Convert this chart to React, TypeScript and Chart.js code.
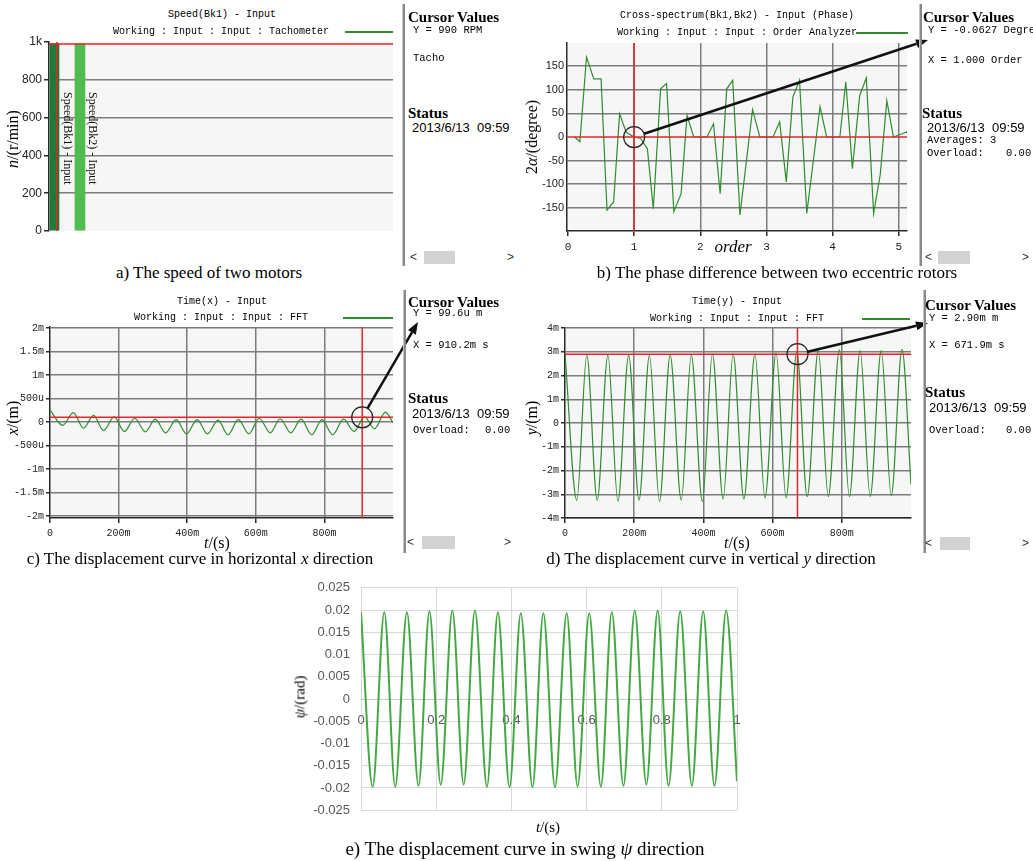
import React, { useEffect, useRef } from 'react';
import { Chart, registerables } from 'chart.js';
Chart.register(...registerables);

const MONO = '"Liberation Mono", "DejaVu Sans Mono", monospace';
const SERIF = '"Liberation Serif", "Times New Roman", serif';
const SANS = '"Liberation Sans", Arial, sans-serif';

// ---------- a) speed of two motors ----------
const speedChannels = ['Speed(Bk1) - Input', 'Speed(Bk2) - Input'];
const speedChannelX = [1.6, 9.0];
const speedRPM = [990, 990];
const speedTickValues = [0, 200, 400, 600, 800, 1000];
const speedTickLabels = ['0', '200', '400', '600', '800', '1k'];
const speedCursorX = 2.3;
const speedCursorY = 990;

// ---------- b) phase difference ----------
const phaseOrder = [0.1, 0.18, 0.28, 0.39, 0.5, 0.59, 0.69, 0.78, 0.88, 1.0, 1.1, 1.2, 1.29, 1.4, 1.49, 1.6, 1.71, 1.8, 1.9, 2.1, 2.2, 2.3, 2.4, 2.49, 2.6, 2.79, 2.9, 3.1, 3.2, 3.3, 3.4, 3.5, 3.61, 3.81, 3.91, 4.11, 4.2, 4.3, 4.41, 4.51, 4.62, 4.72, 4.82, 4.92, 5.11, 5.12];
const phaseDeg = [0, -10, 169, 123, 123, -155, -137, 49, 10, 0, -3, -25, -152, 102, 113, -158, -120, 46, 0, 0, 28, -120, 102, 120, -165, 58, 0, 0, 32, -95, 85, 120, -162, 64, 0, 0, 117, -67, 88, 125, -162, -80, 77, 0, 10, 12];
const phaseTickValues = [-150, -100, -50, 0, 50, 100, 150];
const orderTickValues = [0, 1, 2, 3, 4, 5];
const phaseCursorX = 1.0;
const phaseCursorY = -0.0627;

// ---------- c) horizontal x displacement (m-units as shown on axis) ----------
const xTime = [0, 0.037, 0.068, 0.098, 0.127, 0.156, 0.187, 0.217, 0.247, 0.278, 0.307, 0.337, 0.368, 0.398, 0.429, 0.459, 0.49, 0.519, 0.549, 0.58, 0.61, 0.642, 0.671, 0.702, 0.732, 0.763, 0.793, 0.824, 0.856, 0.886, 0.917, 0.946, 0.978, 1.0];
const xDisp = [0.26, -0.07, 0.2, -0.13, 0.14, -0.18, 0.11, -0.2, 0.08, -0.21, 0.06, -0.23, 0.05, -0.25, 0.05, -0.25, 0.04, -0.27, 0.05, -0.25, 0.08, -0.23, 0.07, -0.23, 0.06, -0.27, 0.05, -0.27, 0.06, -0.2, 0.11, -0.14, 0.21, -0.02];
const xTickValues = [-2, -1.5, -1, -0.5, 0, 0.5, 1, 1.5, 2];
const xTickLabels = ['-2m', '-1.5m', '-1m', '-500u', '0', '500u', '1m', '1.5m', '2m'];
const xCursorX = 0.9102;
const xCursorY = 0.0996;

// ---------- d) vertical y displacement ----------
const yTime = [0, 0.034, 0.063, 0.093, 0.124, 0.153, 0.184, 0.214, 0.244, 0.273, 0.304, 0.336, 0.365, 0.397, 0.426, 0.457, 0.486, 0.517, 0.549, 0.578, 0.61, 0.639, 0.67, 0.7, 0.732, 0.761, 0.793, 0.822, 0.853, 0.882, 0.914, 0.943, 0.974, 1.0];
const yDisp = [2.9, -3.25, 2.85, -3.25, 2.85, -3.3, 2.85, -3.25, 2.85, -3.3, 2.85, -3.25, 2.85, -3.3, 2.9, -3.2, 2.9, -3.2, 2.9, -3.15, 2.95, -3.15, 3.0, -3.1, 3.05, -3.1, 3.08, -3.1, 3.05, -3.1, 3.05, -3.05, 3.1, -2.6];
const yTickValues = [-4, -3, -2, -1, 0, 1, 2, 3, 4];
const yTickLabels = ['-4m', '-3m', '-2m', '-1m', '0', '1m', '2m', '3m', '4m'];
const yCursorX = 0.6719;
const yCursorY = 2.9;

// shared time axis ticks for c and d
const timeTickValues = [0, 0.2, 0.4, 0.6, 0.8];
const timeTickLabels = ['0', '200m', '400m', '600m', '800m'];

// ---------- e) swing psi ----------
const swingTime = [0, 0.031, 0.062, 0.091, 0.122, 0.153, 0.182, 0.212, 0.243, 0.273, 0.303, 0.335, 0.364, 0.395, 0.425, 0.456, 0.485, 0.516, 0.547, 0.576, 0.607, 0.638, 0.667, 0.698, 0.728, 0.759, 0.789, 0.818, 0.849, 0.88, 0.91, 0.94, 0.971, 1.0];
const swingRad = [0.0195, -0.0197, 0.0195, -0.0197, 0.0195, -0.0195, 0.0197, -0.0193, 0.0199, -0.0192, 0.0199, -0.0197, 0.0195, -0.0198, 0.0193, -0.0198, 0.0193, -0.0198, 0.0193, -0.0197, 0.0193, -0.0197, 0.0195, -0.0195, 0.0199, -0.0192, 0.0199, -0.0195, 0.0197, -0.0195, 0.0197, -0.0195, 0.0199, -0.0185];
const swingTickValues = [-0.025, -0.02, -0.015, -0.01, -0.005, 0, 0.005, 0.01, 0.015, 0.02, 0.025];
const swingTimeTicks = [0, 0.2, 0.4, 0.6, 0.8, 1];

// ---------- styling ----------
const GREEN = '#2f8c2f';
const GRID = '#7c7c7c';
const AXIS = '#2a2a2a';
const RED = '#e3262b';
const PLOT_BG = '#f6f6f6';

const zip = (xs: number[], ys: number[]) => xs.map((x, i) => ({ x, y: ys[i] }));
const setTicks = (vals: number[]) => (s: any) => {
  s.ticks = vals.map((v) => ({ value: v }));
};
const labelFrom = (vals: number[], labels: string[]) => (v: any) => {
  const i = vals.findIndex((t) => Math.abs(t - v) < 1e-9);
  return i >= 0 ? labels[i] : '';
};

const bgPlugin = (color: string) => ({
  id: 'plotbg',
  beforeDraw(chart: any) {
    const { ctx, chartArea: a } = chart;
    ctx.save();
    ctx.fillStyle = color;
    ctx.fillRect(a.left, a.top, a.right - a.left, a.bottom - a.top);
    ctx.restore();
  },
});

const cursorPlugin = (o: { x: number; y: number; circle?: boolean; arrowTo?: [number, number] }) => ({
  id: 'cursor',
  afterDatasetsDraw(chart: any) {
    const { ctx, chartArea: a, scales } = chart;
    const px = scales.x.getPixelForValue(o.x);
    const py = scales.y.getPixelForValue(o.y);
    ctx.save();
    ctx.strokeStyle = RED;
    ctx.lineWidth = 1.5;
    ctx.beginPath();
    ctx.moveTo(a.left, py);
    ctx.lineTo(a.right, py);
    ctx.stroke();
    ctx.beginPath();
    ctx.moveTo(px, a.top);
    ctx.lineTo(px, a.bottom);
    ctx.stroke();
    if (o.circle) {
      const r = 10.5;
      ctx.strokeStyle = '#222';
      ctx.lineWidth = 1.2;
      ctx.beginPath();
      ctx.arc(px, py, r, 0, Math.PI * 2);
      ctx.stroke();
      if (o.arrowTo) {
        const [tx, ty] = o.arrowTo;
        const dx = tx - px, dy = ty - py;
        const L = Math.hypot(dx, dy);
        const ux = dx / L, uy = dy / L;
        const sx = px + ux * r, sy = py + uy * r;
        const hl = 12, hw = 4.5;
        const bx = tx - ux * hl, by = ty - uy * hl;
        ctx.strokeStyle = '#111';
        ctx.lineWidth = 2.5;
        ctx.beginPath();
        ctx.moveTo(sx, sy);
        ctx.lineTo(bx, by);
        ctx.stroke();
        ctx.fillStyle = '#111';
        ctx.beginPath();
        ctx.moveTo(tx, ty);
        ctx.lineTo(bx - uy * hw, by + ux * hw);
        ctx.lineTo(bx + uy * hw, by - ux * hw);
        ctx.closePath();
        ctx.fill();
      }
    }
    ctx.restore();
  },
});

const speedLabelPlugin = {
  id: 'speedLabels',
  afterDatasetsDraw(chart: any) {
    const { ctx, chartArea: a, scales } = chart;
    ctx.save();
    ctx.fillStyle = '#111';
    ctx.font = `12px ${SERIF}`;
    ctx.textBaseline = 'middle';
    ctx.textAlign = 'left';
    speedChannels.forEach((label, i) => {
      const px = scales.x.getPixelForValue(speedChannelX[i]) + 12.5;
      ctx.save();
      ctx.translate(px, a.top + 50);
      ctx.rotate(Math.PI / 2);
      ctx.fillText(label, 0, 0);
      ctx.restore();
    });
    ctx.restore();
  },
};

const baseOpts = (padding: any) => ({
  animation: false,
  responsive: false,
  events: [],
  layout: { padding },
  plugins: { legend: { display: false }, tooltip: { enabled: false }, title: { display: false } },
});

const instrGrid = (hideZero: boolean, tickLength: number, drawTicks = true) => ({
  color: (c: any) => (hideZero && c.tick && Math.abs(c.tick.value) < 1e-9 ? 'rgba(0,0,0,0)' : GRID),
  lineWidth: 1.5,
  tickColor: AXIS,
  tickLength,
  drawTicks,
});

// ---------- chart configs ----------
const makeSpeed = () => ({
  type: 'bar',
  data: {
    datasets: speedChannels.map((label, i) => ({
      label,
      data: [{ x: speedChannelX[i], y: speedRPM[i] }],
      backgroundColor: i === 0 ? '#1d7a37' : '#4fbc4f',
      barThickness: i === 0 ? 9 : 10,
      grouped: false,
    })),
  },
  options: {
    ...baseOpts({ top: 22, right: 7, bottom: 29, left: 0 }),
    scales: {
      x: { type: 'linear', min: 0, max: 100, offset: false, display: false },
      y: {
        type: 'linear', min: 0, max: 1000,
        afterBuildTicks: setTicks(speedTickValues),
        afterFit: (s: any) => { s.width = 49; },
        ticks: { callback: labelFrom(speedTickValues, speedTickLabels), font: { family: SANS, size: 12 }, color: '#222', padding: 2 },
        grid: { color: (c: any) => (c.tick && (c.tick.value === 0 || c.tick.value === 1000) ? 'rgba(0,0,0,0)' : GRID), lineWidth: 1.5, tickColor: AXIS, tickLength: 5 },
        border: { color: AXIS, width: 1.5 },
      },
    },
  },
  plugins: [bgPlugin(PLOT_BG), speedLabelPlugin, cursorPlugin({ x: speedCursorX, y: speedCursorY })],
});

const makePhase = () => ({
  type: 'line',
  data: { datasets: [{ data: zip(phaseOrder, phaseDeg), borderColor: GREEN, borderWidth: 1.2, pointRadius: 0, tension: 0 }] },
  options: {
    ...baseOpts({ top: 23, right: 33, bottom: 4, left: 0 }),
    scales: {
      x: {
        type: 'linear', min: -0.015, max: 5.125,
        afterBuildTicks: setTicks(orderTickValues),
        afterFit: (s: any) => { s.height = 25; },
        ticks: { callback: (v: any) => String(v), font: { family: MONO, size: 11 }, color: '#222', padding: 4, maxRotation: 0 },
        grid: instrGrid(true, 5),
        border: { color: AXIS, width: 1.5 },
      },
      y: {
        type: 'linear', min: -199, max: 199,
        afterBuildTicks: setTicks(phaseTickValues),
        afterFit: (s: any) => { s.width = 47; },
        ticks: { callback: (v: any) => String(v), font: { family: SANS, size: 11 }, color: '#222', padding: 3 },
        grid: instrGrid(true, 0, false),
        border: { color: AXIS, width: 1.5 },
      },
    },
  },
  plugins: [bgPlugin(PLOT_BG), cursorPlugin({ x: phaseCursorX, y: phaseCursorY, circle: true, arrowTo: [928 - 520, 40 - 20] })],
});

const makeTime = (t: number[], v: number[], yMin: number, yMax: number, yVals: number[], yLabels: string[], yWidth: number, padRight: number, cx: number, cy: number, arrowTo: [number, number]) => ({
  type: 'line',
  data: { datasets: [{ data: zip(t, v), borderColor: GREEN, borderWidth: 1.2, pointRadius: 0, cubicInterpolationMode: 'monotone' }] },
  options: {
    ...baseOpts({ top: yWidth === 50 ? 22 : 23, right: padRight, bottom: 12, left: 0 }),
    scales: {
      x: {
        type: 'linear', min: 0, max: 1.0,
        afterBuildTicks: setTicks(timeTickValues),
        afterFit: (s: any) => { s.height = 25; },
        ticks: { callback: labelFrom(timeTickValues, timeTickLabels), font: { family: MONO, size: 10 }, color: '#222', padding: 4, maxRotation: 0 },
        grid: instrGrid(true, 5),
        border: { color: AXIS, width: 1.5 },
      },
      y: {
        type: 'linear', min: yMin, max: yMax,
        afterBuildTicks: setTicks(yVals),
        afterFit: (s: any) => { s.width = yWidth; },
        ticks: { callback: labelFrom(yVals, yLabels), font: { family: MONO, size: 10 }, color: '#222', padding: 2 },
        grid: instrGrid(false, 4),
        border: { color: AXIS, width: 1.5 },
      },
    },
  },
  plugins: [bgPlugin(PLOT_BG), cursorPlugin({ x: cx, y: cy, circle: true, arrowTo })],
});

const makeSwing = () => ({
  type: 'line',
  data: { datasets: [{ data: zip(swingTime, swingRad), borderColor: '#43a843', borderWidth: 2, pointRadius: 0, cubicInterpolationMode: 'monotone' }] },
  options: {
    ...baseOpts({ top: 0, right: 23, bottom: 0, left: 0 }),
    scales: {
      x: {
        type: 'linear', min: 0, max: 1, position: { y: 0 },
        afterBuildTicks: setTicks(swingTimeTicks),
        ticks: { callback: (v: any) => String(v), font: { family: SANS, size: 13 }, color: '#595959', padding: 14, maxRotation: 0 },
        grid: { color: '#d9d9d9', lineWidth: 1, drawTicks: false },
        border: { color: '#c8c8c8', width: 1 },
      },
      y: {
        type: 'linear', min: -0.025, max: 0.025,
        afterBuildTicks: setTicks(swingTickValues),
        afterFit: (s: any) => { s.width = 81; },
        ticks: { callback: (v: any) => String(+Number(v).toFixed(3)), font: { family: SANS, size: 13 }, color: '#595959', padding: 11 },
        grid: { color: '#d9d9d9', lineWidth: 1, drawTicks: false },
        border: { display: false },
      },
    },
  },
  plugins: [],
});

// ---------- components ----------
function ChartBox({ left, top, width, height, make }: { left: number; top: number; width: number; height: number; make: () => any }) {
  const ref = useRef<HTMLCanvasElement>(null);
  useEffect(() => {
    const chart = new Chart(ref.current as HTMLCanvasElement, make());
    return () => chart.destroy();
  }, []);
  return <canvas ref={ref} width={width} height={height} style={{ position: 'absolute', left, top, width, height }} />;
}

type TP = {
  x: number; y: number; children: any; size?: number; family?: string; bold?: boolean; italic?: boolean;
  align?: 'left' | 'center' | 'right'; rotate?: boolean; color?: string;
};
function T({ x, y, children, size = 10, family = MONO, bold = false, italic = false, align = 'left', rotate = false, color = '#000' }: TP) {
  const tx = rotate || align === 'center' ? '-50%' : align === 'right' ? '-100%' : '0';
  return (
    <div
      style={{
        position: 'absolute', left: x, top: y,
        transform: `translate(${tx}, -50%)${rotate ? ' rotate(-90deg)' : ''}`,
        fontFamily: family, fontSize: size, fontWeight: bold ? 700 : 400, fontStyle: italic ? 'italic' : 'normal',
        whiteSpace: 'pre', lineHeight: 1, color,
      }}
    >
      {children}
    </div>
  );
}

const Box = ({ x, y, w, h, c }: { x: number; y: number; w: number; h: number; c: string }) => (
  <div style={{ position: 'absolute', left: x, top: y, width: w, height: h, background: c }} />
);

const Separator = ({ x, y0, y1 }: { x: number; y0: number; y1: number }) => (
  <>
    <Box x={x - 1} y={y0} w={1} h={y1 - y0} c="#c4c4c4" />
    <Box x={x} y={y0} w={2} h={y1 - y0} c="#8a8a8a" />
  </>
);

const Scroll = ({ x, y, rx, rw }: { x: number; y: number; rx: number; rw: number }) => (
  <>
    <T x={x} y={y} family={SANS} size={12} color="#333">{'<'}</T>
    <Box x={rx} y={y - 6} w={rw} h={13} c="#d2d2d2" />
    <T x={x + 97} y={y} family={SANS} size={12} color="#333">{'>'}</T>
  </>
);

const Cap = ({ x, y, size = 17, children }: { x: number; y: number; size?: number; children: any }) => (
  <T x={x} y={y} family={SERIF} size={size} align="center" color="#000">{children}</T>
);

const SM = 10.5; // side-panel mono size
const SD = 13; // side-panel date size

export default function App() {
  return (
    <div style={{ position: 'absolute', left: 0, top: 0, width: 1033, height: 861, background: '#fff', overflow: 'hidden' }}>
      <ChartBox left={0} top={20} width={400} height={240} make={makeSpeed} />
      <ChartBox left={520} top={20} width={420} height={240} make={makePhase} />
      <ChartBox left={0} top={305} width={430} height={250}
        make={() => makeTime(xTime, xDisp, -2.04, 2.02, xTickValues, xTickLabels, 50, 37, xCursorX, xCursorY, [418, 322 - 305])} />
      <ChartBox left={520} top={305} width={420} height={250}
        make={() => makeTime(yTime, yDisp, -4.0, 4.0, yTickValues, yTickLabels, 45, 29, yCursorX, yCursorY, [928 - 520, 323 - 305])} />
      <ChartBox left={280} top={569} width={480} height={260} make={makeSwing} />

      {/* a) */}
      <T x={222} y={15} align="center">Speed(Bk1) - Input</T>
      <T x={221} y={32} align="center">Working : Input : Input : Tachometer</T>
      <Box x={345} y={31} w={48} h={1.5} c={GREEN} />
      <T x={13} y={139} rotate family={SERIF} size={16}><i>n</i>/(r/min)</T>
      <Separator x={403} y0={4} y1={266} />
      <T x={408} y={17} family={SERIF} size={15} bold>Cursor Values</T>
      <T x={413} y={30} size={SM}>Y = 990 RPM</T>
      <T x={413} y={58} size={SM}>Tacho</T>
      <T x={408} y={113} family={SERIF} size={15} bold>Status</T>
      <T x={412} y={127} family={SANS} size={SD}>2013/6/13  09:59</T>
      <Scroll x={410} y={257} rx={424} rw={31} />
      <Cap x={209} y={272}>a) The speed of two motors</Cap>

      {/* b) */}
      <T x={737} y={16} align="center">Cross-spectrum(Bk1,Bk2) - Input (Phase)</T>
      <T x={737} y={33} align="center">Working : Input : Input : Order Analyzer</T>
      <Box x={856} y={32} w={52} h={1.5} c={GREEN} />
      <T x={532} y={137} rotate family={SERIF} size={16}>2<i>α</i>/(degree)</T>
      <T x={733} y={246} family={SERIF} size={17} italic align="center">order</T>
      <Separator x={920} y0={4} y1={266} />
      <T x={923} y={17} family={SERIF} size={15} bold>Cursor Values</T>
      <T x={928} y={30} size={SM}>Y = -0.0627 Degree</T>
      <T x={928} y={60} size={SM}>X = 1.000 Order</T>
      <T x={922} y={113} family={SERIF} size={15} bold>Status</T>
      <T x={927} y={127} family={SANS} size={SD}>2013/6/13  09:59</T>
      <T x={927} y={140} size={SM}>Averages: 3</T>
      <T x={927} y={153} size={SM}>Overload:</T>
      <T x={1006} y={153} size={SM}>0.00</T>
      <Scroll x={925} y={257} rx={938} rw={32} />
      <Cap x={777} y={272}>b) The phase difference between two eccentric rotors</Cap>

      {/* c) */}
      <T x={222} y={302} align="center">Time(x) - Input</T>
      <T x={221} y={318} align="center">Working : Input : Input : FFT</T>
      <Box x={343} y={317} w={50} h={1.5} c={GREEN} />
      <T x={13} y={418} rotate family={SERIF} size={16}><i>x</i>/(m)</T>
      <T x={217} y={543} family={SERIF} size={16} align="center"><i>t</i>/(s)</T>
      <Separator x={404} y0={290} y1={553} />
      <T x={408} y={302} family={SERIF} size={15} bold>Cursor Values</T>
      <T x={413} y={313} size={SM}>Y = 99.6u m</T>
      <T x={413} y={345} size={SM}>X = 910.2m s</T>
      <T x={408} y={398} family={SERIF} size={15} bold>Status</T>
      <T x={412} y={413} family={SANS} size={SD}>2013/6/13  09:59</T>
      <T x={413} y={430} size={SM}>Overload:</T>
      <T x={485} y={430} size={SM}>0.00</T>
      <Scroll x={407} y={542} rx={422} rw={33} />
      <Cap x={200} y={558}>c) The displacement curve in horizontal <i>x</i> direction</Cap>

      {/* d) */}
      <T x={737} y={302} align="center">Time(y) - Input</T>
      <T x={737} y={319} align="center">Working : Input : Input : FFT</T>
      <Box x={862} y={318} w={48} h={1.5} c={GREEN} />
      <T x={532} y={418} rotate family={SERIF} size={16}><i>y</i>/(m)</T>
      <T x={737} y={543} family={SERIF} size={16} align="center"><i>t</i>/(s)</T>
      <Separator x={924} y0={290} y1={553} />
      <T x={925} y={305} family={SERIF} size={15} bold>Cursor Values</T>
      <T x={929} y={318} size={SM}>Y = 2.90m m</T>
      <T x={929} y={345} size={SM}>X = 671.9m s</T>
      <T x={925} y={392} family={SERIF} size={15} bold>Status</T>
      <T x={929} y={407} family={SANS} size={SD}>2013/6/13  09:59</T>
      <T x={929} y={430} size={SM}>Overload:</T>
      <T x={1006} y={430} size={SM}>0.00</T>
      <Scroll x={925} y={543} rx={940} rw={30} />
      <Cap x={711} y={558}>d) The displacement curve in vertical <i>y</i> direction</Cap>

      {/* e) */}
      <T x={300} y={697} rotate family={SERIF} size={15}><i>ψ</i>/(rad)</T>
      <T x={548} y={827} family={SERIF} size={15} align="center"><i>t</i>/(s)</T>
      <Cap x={525} y={848} size={19}>e) The displacement curve in swing <i>ψ</i> direction</Cap>
    </div>
  );
}
